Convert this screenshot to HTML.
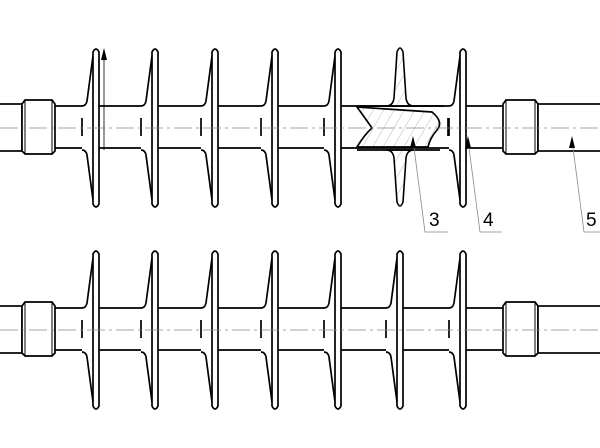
<!DOCTYPE html>
<html><head><style>html,body{margin:0;padding:0;background:#fff}svg{display:block}</style></head>
<body>
<svg width="600" height="448" viewBox="0 0 600 448" xmlns="http://www.w3.org/2000/svg">
<defs>
<pattern id="h" width="9" height="9" patternUnits="userSpaceOnUse" patternTransform="rotate(30)">
<rect width="9" height="9" fill="#fff"/>
<line x1="0" y1="0" x2="0" y2="9" stroke="#999" stroke-width="0.7"/></pattern>
<g id="shed">
<path d="M-3,-72 L-9,-27 Q-10,-22 -14,-22 L-14,22 Q-10,22 -9,27 L-3,72 L-3,76 Q0,82 3,76 L3,-76 Q0,-82 -3,-76 Z" fill="#fff" stroke="none"/>
<path d="M-3,-72 L-9,-27 Q-10,-22 -14,-22 M-14,22 Q-10,22 -9,27 L-3,72" fill="none" stroke="#000" stroke-width="1.7"/>
<path d="M-3,76 L-3,-76 Q0,-82 3,-76 L3,76 Q0,82 -3,76 Z" fill="#fff" stroke="#000" stroke-width="1.7"/>
<line x1="-14" y1="-10" x2="-14" y2="8" stroke="#000" stroke-width="1.7"/>
</g>
<g id="row">
<rect x="-2" y="-24" width="24" height="47" fill="#fff" stroke="#000" stroke-width="1.7"/>
<path d="M22,-24 L25,-28 L52,-28 L55,-24 L55,23 L52,26 L25,26 L22,23 Z" fill="#fff" stroke="#000" stroke-width="1.7"/>
<line x1="25" y1="-28" x2="25" y2="26" stroke="#000" stroke-width="1"/>
<line x1="52" y1="-28" x2="52" y2="26" stroke="#000" stroke-width="1"/>
<line x1="55" y1="-22" x2="503" y2="-22" stroke="#000" stroke-width="1.7"/>
<line x1="55" y1="20" x2="503" y2="20" stroke="#000" stroke-width="1.7"/>
<use href="#shed" x="96"/><use href="#shed" x="155"/><use href="#shed" x="215"/>
<use href="#shed" x="275"/><use href="#shed" x="338"/><use href="#shed" x="463"/>
<path d="M503,-24 L506,-28 L535,-28 L538,-24 L538,23 L535,26 L506,26 L503,23 Z" fill="#fff" stroke="#000" stroke-width="1.7"/>
<line x1="506" y1="-28" x2="506" y2="26" stroke="#000" stroke-width="1"/>
<line x1="535" y1="-28" x2="535" y2="26" stroke="#000" stroke-width="1"/>
<rect x="538" y="-24" width="64" height="47" fill="#fff" stroke="#000" stroke-width="1.7"/>
</g>
</defs>
<use href="#row" y="128"/>
<use href="#row" y="330"/>
<use href="#shed" x="400" y="330"/>
<!-- sectioned shed top row -->
<path d="M397,52 Q400,44 403,52 L406,98 Q407,106 414,106 L386,106 Q393,106 394,98 Z" fill="url(#h)" stroke="#000" stroke-width="1.6"/>
<path d="M394,158 Q393,150 386,150 L414,150 Q407,150 406,158 L403,202 Q400,210 397,202 Z" fill="url(#h)" stroke="#000" stroke-width="1.6"/>
<path d="M357,106 L444,106 M357,150 L440,150" stroke="#000" stroke-width="1.7"/>
<path d="M357,107 L432,112 Q444,122 437,130 Q430,138 428,147 L357,147 Q365,134 372,128 Q365,118 357,107 Z" fill="url(#h)" stroke="#000" stroke-width="1.7"/>
<line x1="448" y1="118" x2="448" y2="136" stroke="#000" stroke-width="1.7"/>
<line x1="0" y1="128" x2="600" y2="128" stroke="#888" stroke-width="0.8" stroke-dasharray="18,4,3,4"/>
<line x1="0" y1="330" x2="600" y2="330" stroke="#888" stroke-width="0.8" stroke-dasharray="18,4,3,4"/>
<!-- arrow -->
<line x1="104" y1="150" x2="104" y2="58" stroke="#000" stroke-width="0.8"/>
<path d="M101,60 L104,48 L107,60 Z" fill="#000"/>
<!-- leaders -->
<g stroke="#888" stroke-width="0.8" fill="none">
<path d="M413,140 L425,232 L448,232"/>
<path d="M468,140 L480,232 L502,232"/>
<path d="M572,140 L584,232 L600,232"/>
</g>
<path d="M410,148 L413,136 L416,148 Z" fill="#000"/>
<path d="M465,148 L468,136 L471,148 Z" fill="#000"/>
<path d="M569,148 L572,136 L575,148 Z" fill="#000"/>
<g font-family="Liberation Sans, sans-serif" font-size="19" fill="#000">
<text x="429" y="226">3</text><text x="483" y="226">4</text><text x="586" y="226">5</text>
</g>
</svg>
</body></html>
